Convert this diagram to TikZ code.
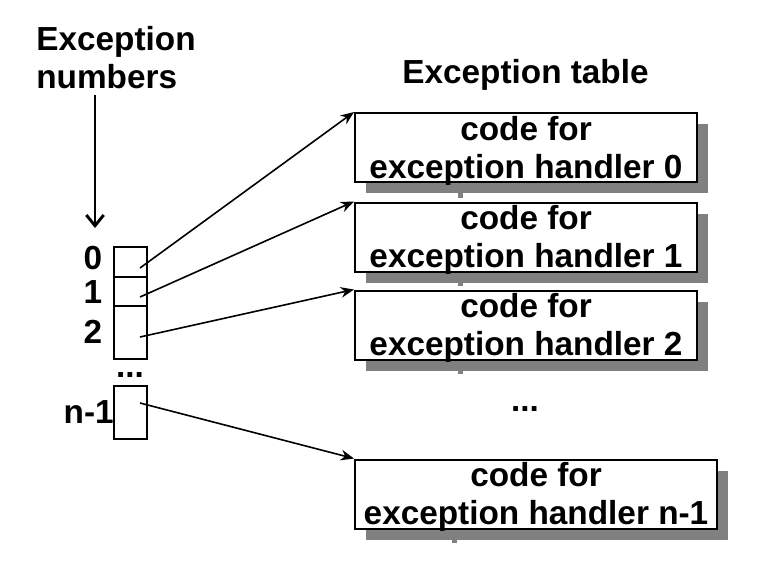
\documentclass[tikz,border=0pt]{standalone}
\usepackage{fontspec}
\setmainfont{Liberation Sans}
\usetikzlibrary{arrows.meta,shadows,calc}
\definecolor{shadowgray}{HTML}{808080}
\begin{document}
\begin{tikzpicture}[x=0.75pt,y=-0.75pt,
  every node/.style={font=\fontsize{25}{28.5}\selectfont\bfseries, inner sep=0pt},
  hbox/.style={draw, line width=1.5pt, fill=white, minimum width=256.5pt, minimum height=51.75pt,
     drop shadow={shadow xshift=8.25pt, shadow yshift=-8.25pt, fill=shadowgray, opacity=1}},
  htext/.style={align=center},
  cell/.style={draw, line width=1.5pt, minimum width=24.75pt},
  ptr/.style={line width=1.2pt, -{Stealth[length=10pt,width=8pt]}},
  tick/.style={fill=shadowgray}
]
\useasboundingbox (0,0) rectangle (766,586);
% headings
\node[align=left] (numlab) at (116,58) {Exception\\numbers};
\node[anchor=base] (tablab) at (525.5,83) {Exception table};
\coordinate (va) at (95,95);
\coordinate (vb) at (95,228);
\draw[line width=2.2pt, -{Straight Barb[length=8pt,width=13pt]}] (va) -- (vb);
% exception number table
\node[cell, minimum height=22.5pt] (c0) at (130.5,262) {};
\node[cell, minimum height=21.75pt] (c1) at (130.5,291.5) {};
\node[cell, minimum height=39.75pt] (c2) at (130.5,332.5) {};
\node[cell, minimum height=39.75pt] (cn) at (130.5,412.5) {};
\node (l0) at (93,258) {0};
\node (l1) at (93,292) {1};
\node (l2) at (93,332) {2};
\node[anchor=base] (ldots) at (130,377) {...};
\node[anchor=east] (ln) at (114,412) {n-1};
\coordinate (p0) at (140,268);
\coordinate (p1) at (140,297);
\coordinate (p2) at (140,337);
\coordinate (pn) at (140,403);
% handler boxes
\node[hbox] (h0) at (526,147.5) {};
\node[hbox] (h1) at (526,237) {};
\node[hbox] (h2) at (526,325) {};
\node[hbox, minimum width=271.5pt] (hn) at (536,494) {};
\node[htext] (t0) at ($(h0)+(0,3)$) {code for\\exception handler 0};
\node[htext] (t1) at ($(h1)+(0,3)$) {code for\\exception handler 1};
\node[htext] (t2) at ($(h2)+(0,3)$) {code for\\exception handler 2};
\node[htext] (tn) at ($(hn)+(0,3)$) {code for\\exception handler n-1};
\node[anchor=base] (hdots) at (525,411) {...};
\fill[tick] (458,193) rectangle (463,198);
\fill[tick] (458,282) rectangle (463,286);
\fill[tick] (458,370) rectangle (463,374);
\fill[tick] (452,539) rectangle (457,543);
% pointers
\draw[ptr] (p0) -- (h0.north west);
\draw[ptr] (p1) -- (h1.north west);
\draw[ptr] (p2) -- (h2.north west);
\draw[ptr] (pn) -- (hn.north west);
\end{tikzpicture}
\end{document}
